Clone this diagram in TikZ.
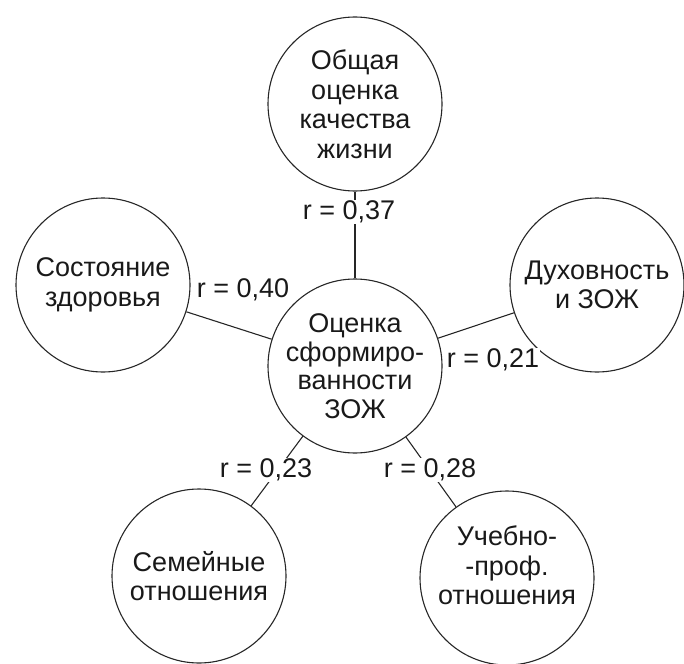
\documentclass[tikz,border=0pt]{standalone}
\usepackage{fontspec}
\setmainfont{Liberation Sans}
\begin{document}
\begin{tikzpicture}[x=1pt,y=-1pt,
  bub/.style={circle,draw=black!85,line width=1.1pt,minimum size=174pt,inner sep=0pt,
    align=center,font=\fontsize{27}{29.5}\selectfont,text=black!90},
  conn/.style={draw=black!85,line width=1.1pt},
  rlab/.style={fill=white,inner sep=1pt,font=\fontsize{27}{29}\selectfont,text=black!90}]
\useasboundingbox (0,0) rectangle (684,663);
\node[bub] (top) at (355,104) {Общая\\оценка\\качества\\жизни};
\node[bub,font=\fontsize{27}{28.5}\selectfont] (mid) at (355,366) {Оценка\\сформиро-\\ванности\\ЗОЖ};
\node[bub] (left) at (103,285) {Состояние\\здоровья};
\node[bub] (right) at (597,285) {\rule{0pt}{12pt}Духовность\\и ЗОЖ};
\node[bub] (bl) at (199,576) {Семейные\\отношения};
\node[bub] (br) at (507,578) {Учебно-\\-проф.\\отношения\\[-4pt]\mbox{}};
\draw[conn] (mid) -- (top);
\draw[conn] (mid) -- (left);
\draw[conn] (mid) -- (right);
\draw[conn] (mid) -- (bl);
\draw[conn] (mid) -- (br);
\node[rlab] (l37) at (349,212) {r = 0,37};
\node[rlab] (l40) at (243,290) {r = 0,40};
\node[rlab] (l21) at (493,360) {r = 0,21};
\node[rlab] (l23) at (266,470) {r = 0,23};
\node[rlab] (l28) at (430,470) {r = 0,28};
\end{tikzpicture}
\end{document}
